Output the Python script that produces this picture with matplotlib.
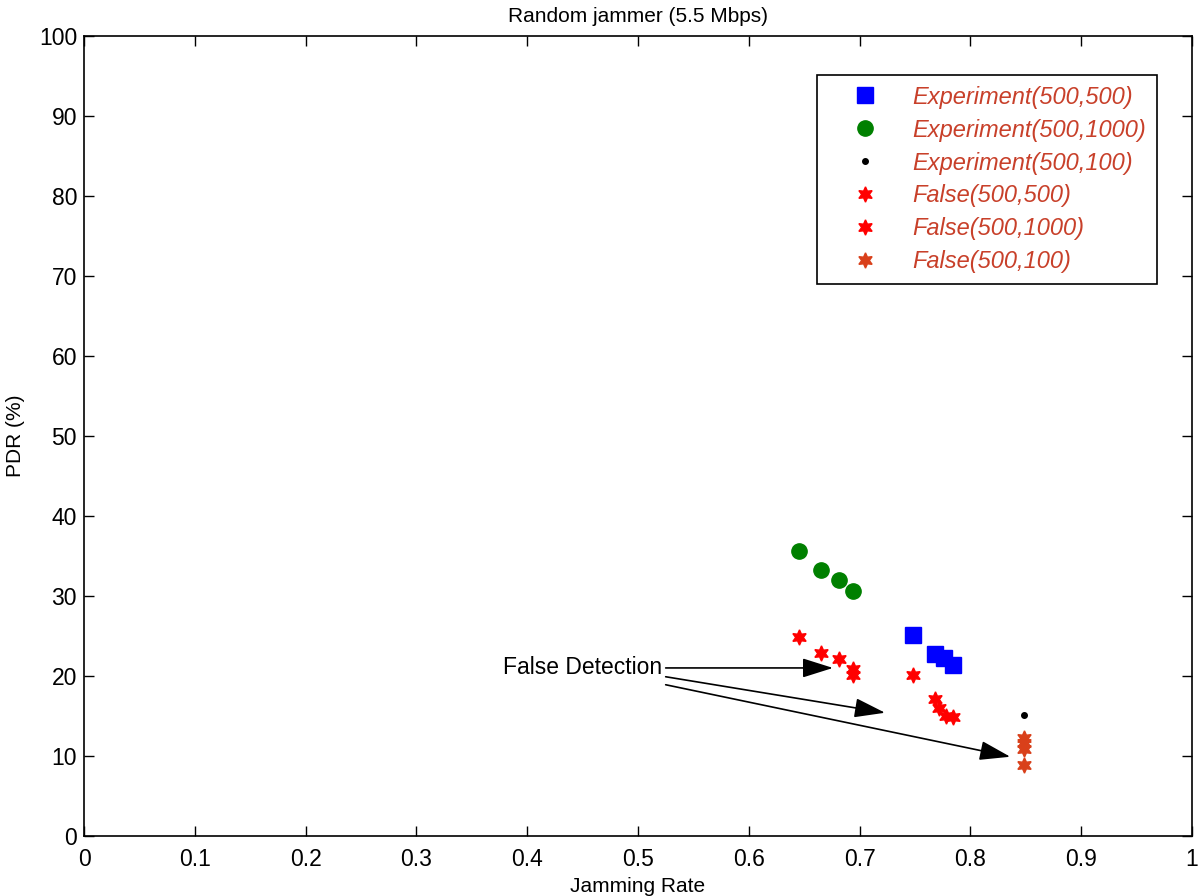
import matplotlib
matplotlib.use('Agg')
import matplotlib.pyplot as plt

plt.rcParams['font.family'] = ['Liberation Sans', 'DejaVu Sans']

# Experiment(500,500)
exp500_x = [0.748, 0.768, 0.776, 0.784]
exp500_y = [25.1, 22.7, 22.2, 21.4]
# Experiment(500,1000)
exp1000_x = [0.645, 0.665, 0.681, 0.694]
exp1000_y = [35.6, 33.3, 32.0, 30.6]
# Experiment(500,100)
exp100_x = [0.848]
exp100_y = [15.1]
# False(500,500)
false500_x = [0.748, 0.768, 0.772, 0.778, 0.784]
false500_y = [20.1, 17.1, 16.0, 15.0, 14.9]
# False(500,1000)
false1000_x = [0.645, 0.665, 0.681, 0.694, 0.694]
false1000_y = [24.9, 22.9, 22.1, 20.9, 20.1]
# False(500,100)
false100_x = [0.848, 0.848, 0.848, 0.848]
false100_y = [12.2, 11.6, 10.9, 8.9]

labels = ['Experiment(500,500)', 'Experiment(500,1000)', 'Experiment(500,100)',
          'False(500,500)', 'False(500,1000)', 'False(500,100)']

# arrow tips for the "False Detection" annotation
arrow_tips = [(0.676, 21.0), (0.723, 15.4), (0.836, 9.9)]
arrow_tails = [(0.525, 21.0), (0.525, 19.9), (0.525, 18.9)]

star = (6, 1, 0)

fig = plt.figure(figsize=(12, 8.96), dpi=100)
ax = fig.add_axes([0.07, 0.067, 0.9233, 0.893])

ax.plot(exp500_x, exp500_y, 's', color='#0000ff', markersize=11, label=labels[0])
ax.plot(exp1000_x, exp1000_y, 'o', color='#008000', markersize=11, label=labels[1])
ax.plot(exp100_x, exp100_y, '.', color='black', markersize=8, label=labels[2])
ax.plot(false500_x, false500_y, linestyle='none', marker=star, color='#ff0000',
        markersize=11, label=labels[3])
ax.plot(false1000_x, false1000_y, linestyle='none', marker=star, color='#ff0000',
        markersize=11, label=labels[4])
ax.plot(false100_x, false100_y, linestyle='none', marker=star, color='#d9401a',
        markersize=11, label=labels[5])

ax.text(0.522, 21.0, 'False Detection', ha='right', va='center', fontsize=16.5)
for tail, tip in zip(arrow_tails, arrow_tips):
    ax.annotate('', xy=tip, xytext=tail,
                arrowprops=dict(arrowstyle='-|>,head_length=1.9,head_width=0.6',
                                color='black', lw=1.2, shrinkA=0, shrinkB=0))

ax.set_xlim(0, 1)
ax.set_ylim(0, 100)
ax.set_xticks([0, 0.1, 0.2, 0.3, 0.4, 0.5, 0.6, 0.7, 0.8, 0.9, 1])
ax.set_xticklabels(['0', '0.1', '0.2', '0.3', '0.4', '0.5', '0.6', '0.7', '0.8', '0.9', '1'])
ax.set_yticks(range(0, 101, 10))
ax.tick_params(direction='in', top=True, right=True, labelsize=16.5, length=7, width=1)
ax.tick_params(axis='x', pad=9)
ax.tick_params(axis='y', pad=5)
for s in ax.spines.values():
    s.set_linewidth(1.2)

ax.set_xlabel('Jamming Rate', fontsize=15, labelpad=4)
ax.set_ylabel('PDR (%)', fontsize=15, labelpad=10)
ax.set_title('Random jammer (5.5 Mbps)', fontsize=15, pad=10)

leg = ax.legend(loc='upper right', bbox_to_anchor=(0.968, 0.951), fontsize=17,
                frameon=True, fancybox=False, edgecolor='black', framealpha=1,
                handletextpad=0.4, borderpad=0.45, labelspacing=0.42, handlelength=3.2,
                borderaxespad=0)
leg.get_frame().set_linewidth(1.2)
for t in leg.get_texts():
    t.set_color('#c8402a')
    t.set_style('italic')

fig.savefig('out.png', dpi=100)
